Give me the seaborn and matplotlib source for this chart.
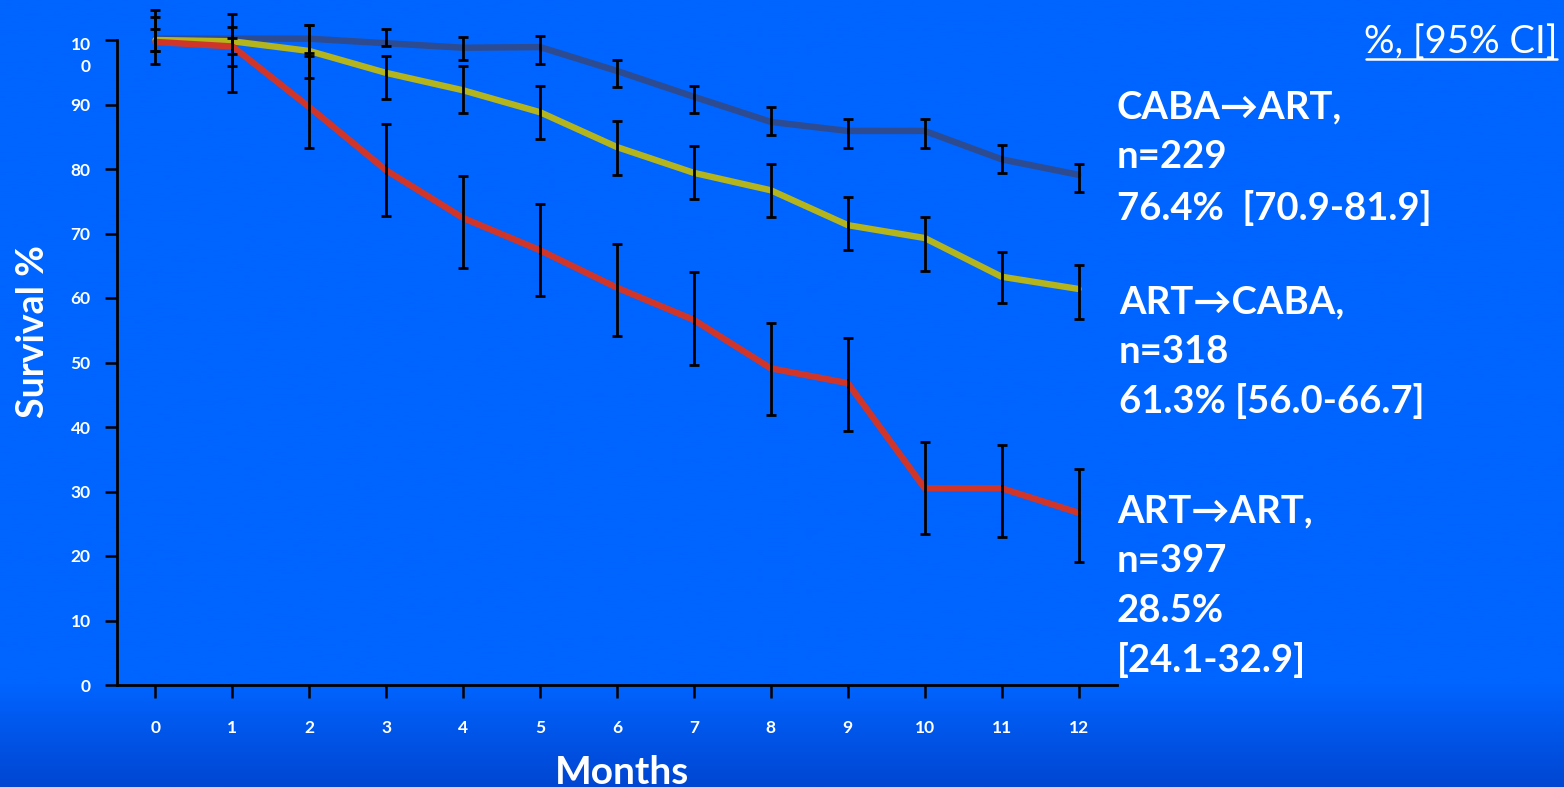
import numpy as np
import pandas as pd
import matplotlib
matplotlib.use("Agg")
import matplotlib.pyplot as plt
import seaborn as sns
from matplotlib.transforms import ScaledTranslation
from matplotlib.lines import Line2D

# ---- data: 12-month survival (%) with 95% CI per treatment sequence ----
months = list(range(13))

arms = ["CABA→ART", "ART→CABA", "ART→ART"]

caba_art = [100.2, 100.2, 100.2, 99.5, 98.8, 98.9, 95.2, 91.2, 87.3, 85.9, 85.9, 81.5, 79.1]
caba_art_lo = [98.3, 97.8, 98.0, 99.1, 96.9, 96.3, 92.7, 88.7, 85.3, 83.3, 83.3, 79.4, 76.4]
caba_art_hi = [103.6, 102.0, 102.3, 101.7, 100.5, 100.6, 96.9, 92.9, 89.6, 87.7, 87.7, 83.7, 80.8]

art_caba = [100.0, 99.8, 98.3, 94.9, 92.2, 88.8, 83.4, 79.4, 76.7, 71.3, 69.3, 63.3, 61.4]
art_caba_lo = [98.3, 96.0, 94.1, 90.9, 88.7, 84.7, 79.1, 75.3, 72.6, 67.4, 64.2, 59.2, 56.7]
art_caba_hi = [101.7, 100.3, 102.3, 97.5, 96.0, 92.9, 87.4, 83.6, 80.8, 75.7, 72.6, 67.1, 65.1]

art_art = [99.7, 99.0, 89.6, 79.8, 72.4, 67.4, 61.6, 56.6, 49.1, 46.8, 30.5, 30.5, 26.7]
art_art_lo = [96.3, 92.0, 83.3, 72.7, 64.7, 60.3, 54.1, 49.6, 41.9, 39.4, 23.4, 22.9, 19.1]
art_art_hi = [104.7, 104.0, 97.5, 87.0, 78.9, 74.6, 68.4, 64.0, 56.1, 53.8, 37.7, 37.2, 33.5]

y_ticks = [0, 10, 20, 30, 40, 50, 60, 70, 80, 90, 100]
y_tick_labels = ["0", "10", "20", "30", "40", "50", "60", "70", "80", "90", "10\n0"]

summary_lines = [
    ["CABA→ART,", "n=229", "76.4%  [70.9-81.9]"],
    ["ART→CABA,", "n=318", "61.3% [56.0-66.7]"],
    ["ART→ART,", "n=397", "28.5%", "[24.1-32.9]"],
]
ci_header = "%, [95% CI]"

colors = {"CABA→ART": "#2D4B90", "ART→CABA": "#B4B41C", "ART→ART": "#D0352A"}

series = {
    "CABA→ART": (caba_art, caba_art_lo, caba_art_hi),
    "ART→CABA": (art_caba, art_caba_lo, art_caba_hi),
    "ART→ART": (art_art, art_art_lo, art_art_hi),
}

df = pd.concat(
    [pd.DataFrame({"Months": months, "Survival": series[a][0], "Arm": a}) for a in arms],
    ignore_index=True,
)

# ---- style ----
sns.set_style("white")
plt.rcParams["font.family"] = ["Lato", "DejaVu Sans"]

W, H = 1564, 787
fig = plt.figure(figsize=(W / 100, H / 100), dpi=100)

# slide background: flat blue, darkening towards the bottom edge
bg = fig.add_axes([0, 0, 1, 1], zorder=-10)
rows = np.linspace(0, 1, 400)
top_col = np.array([0, 100, 255]) / 255
bot_col = np.array([0, 70, 210]) / 255
t = np.clip((rows - 0.87) / 0.13, 0, 1)[:, None]
grad = top_col * (1 - t) + bot_col * t
bg.imshow(grad[:, None, :], aspect="auto", extent=[0, 1, 0, 1])
bg.set_axis_off()

ax = fig.add_axes([117 / W, 102 / H, 1000 / W, 645 / H])
ax.set_facecolor("none")

sns.lineplot(data=df, x="Months", y="Survival", hue="Arm", hue_order=arms,
             palette=colors, linewidth=4.6, legend=False, ax=ax, clip_on=False,
             zorder=2)

for a in arms:
    v, lo, hi = (np.asarray(s) for s in series[a])
    ax.errorbar(months, v, yerr=[v - lo, hi - v], fmt="none", ecolor="black",
                elinewidth=2.0, capsize=3.5, capthick=2.0, clip_on=False, zorder=3)

ax.set_xlim(-0.5, 12.5)
ax.set_ylim(0, 100)
ax.set_xticks(months)
ax.set_yticks(y_ticks)
ax.set_yticklabels(y_tick_labels, multialignment="right", linespacing=1.5)

for s in ["top", "right"]:
    ax.spines[s].set_visible(False)
for s in ["left", "bottom"]:
    ax.spines[s].set_color("black")
    ax.spines[s].set_linewidth(2.0)

ax.tick_params(axis="both", direction="out", length=9, width=1.8, color="black",
               labelcolor="white", labelsize=12.5, bottom=True, left=True)
ax.tick_params(axis="y", pad=10)
ax.tick_params(axis="x", pad=16)
for lbl in ax.get_xticklabels() + ax.get_yticklabels():
    lbl.set_fontweight("bold")

# the wrapped "10/0" label sits below its tick
top_lbl = ax.get_yticklabels()[-1]
top_lbl.set_transform(top_lbl.get_transform() + ScaledTranslation(0, -8 / 72, fig.dpi_scale_trans))

ax.set_xlabel("")
ax.set_ylabel("")
fig.text(622 / W, 1 - 772 / H, "Months", color="white", fontsize=28, fontweight="bold",
         ha="center", va="center")
fig.text(33 / W, 1 - 331 / H, "Survival %", color="white", fontsize=27, fontweight="bold",
         ha="center", va="center", rotation=90)

# per-arm summary at 12 months
baselines = [[118, 168, 220], [313, 363, 413], [522, 572, 622, 672]]
lefts = [1117, 1119, 1117]
for lines, bl, x0 in zip(summary_lines, baselines, lefts):
    for txt, yb in zip(lines, bl):
        fig.text(x0 / W, 1 - yb / H, txt, color="white", fontsize=27.5, fontweight="bold",
                 ha="left", va="baseline")

fig.text(1558 / W, 1 - 53 / H, ci_header, color="white", fontsize=27.5, fontweight="normal",
         ha="right", va="baseline")
fig.add_artist(Line2D([1366 / W, 1557 / W], [1 - 59 / H, 1 - 59 / H], color="white",
                      linewidth=1.8, transform=fig.transFigure))

fig.savefig("out.png", dpi=100)
